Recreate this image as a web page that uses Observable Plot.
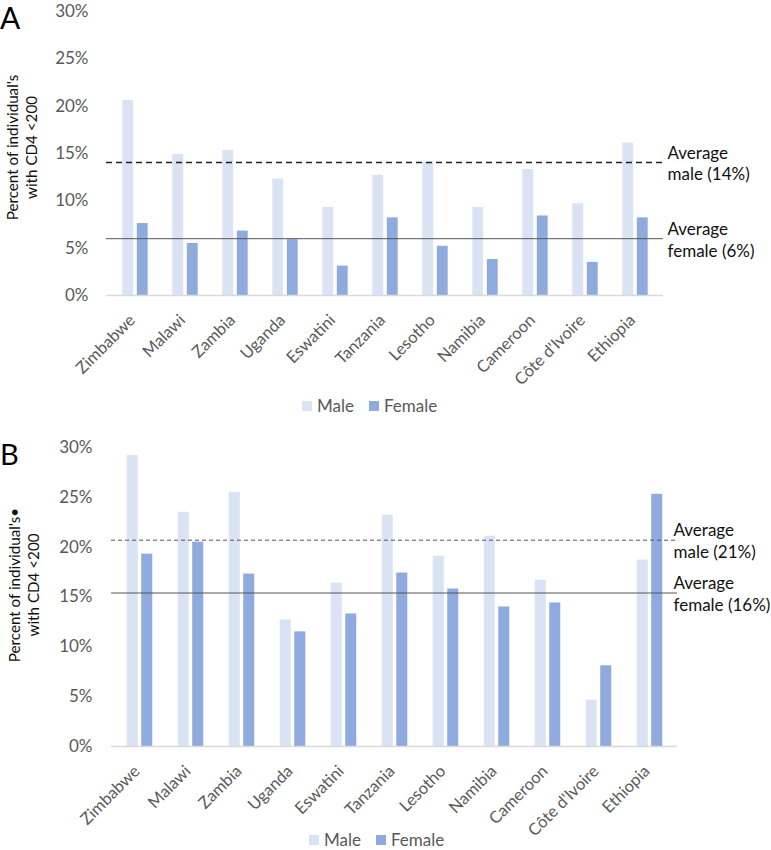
<!DOCTYPE html>
<html><head><meta charset="utf-8">
<script src="https://cdn.jsdelivr.net/npm/d3@7"></script>
<script src="https://cdn.jsdelivr.net/npm/@observablehq/plot@0.6"></script>
<style>
body{margin:0;background:#fff;font-family:Lato,sans-serif;}
#wrap{position:relative;width:771px;height:850px;overflow:hidden;}
.panel{position:absolute;left:0;}
.lbl{position:absolute;color:#000;line-height:1;}
.legend{position:absolute;display:flex;align-items:center;font-size:17px;color:#595959;line-height:1;}
.sw{display:inline-block;width:10px;height:10px;margin-right:5px;}
</style></head>
<body><div id="wrap"></div>
<script>
const countries = ["Zimbabwe","Malawi","Zambia","Uganda","Eswatini","Tanzania","Lesotho","Namibia","Cameroon","Côte d'Ivoire","Ethiopia"];
const maleA   = [20.6,14.9,15.3,12.3,9.3,12.7,14.1,9.3,13.3,9.7,16.1];
const femaleA = [7.6,5.5,6.8,5.9,3.1,8.2,5.2,3.8,8.4,3.5,8.2];
const maleB   = [29.2,23.5,25.5,12.7,16.4,23.2,19.1,21.1,16.7,4.65,18.7];
const femaleB = [19.3,20.5,17.3,11.5,13.3,17.4,15.8,14.0,14.4,8.1,25.3];
const avgA = [14.05, 6.0];
const avgB = [20.7, 15.4];
const avgLabelsA = ["Average\nmale (14%)","Average\nfemale (6%)"];
const avgLabelsB = ["Average\nmale (21%)","Average\nfemale (16%)"];
const yTicks = [0,5,10,15,20,25,30];
const seriesNames = ["Male","Female"];
const seriesColors = ["#dae3f3","#8faadc"];

const wrap = document.getElementById("wrap");
const hasAxes = typeof Plot.axisX === "function";

function panel(o){
  const bw = (771 - o.ml - o.mr) / countries.length;
  const rowsM = countries.map((c,i)=>({country:c, value:o.male[i]}));
  const rowsF = countries.map((c,i)=>({country:c, value:o.female[i]}));
  const marks = [
    Plot.barY(rowsM, {x: "country", y: "value", fill: seriesColors[0], insetLeft: bw/2 - 13, insetRight: bw/2 + 1.5}),
    Plot.barY(rowsF, {x: "country", y: "value", fill: seriesColors[1], insetLeft: bw/2 + 1.5, insetRight: bw/2 - 13}),
    Plot.ruleY([0], {stroke: "#d9d9d9", strokeWidth: 1.5}),
    Plot.ruleY([o.avg[0]], {stroke: o.dashColor, strokeWidth: o.dashWidth, strokeDasharray: o.dash}),
    Plot.ruleY([o.avg[1]], {stroke: "#555", strokeWidth: 1}),
    Plot.text(o.avg, {y: d => d, text: (d,i) => o.avgLabels[i], frameAnchor: "right", textAnchor: "start", dx: o.adx, fill: "#111", fontSize: 17, lineHeight: 1.28}),
    Plot.text([o.ytitle], {text: d => d, frameAnchor: "left", textAnchor: "middle", rotate: -90, dx: o.tdx, dy: o.tdy, fill: "#111", fontSize: 15.2, lineHeight: 1.22})
  ];
  if (hasAxes) {
    marks.push(
      Plot.axisX({tickRotate: -45, tickSize: 0, tickPadding: o.xpad, dx: o.xdx, fontSize: 16.5, fill: "#595959", label: null}),
      Plot.axisY({ticks: yTicks, tickFormat: d => d + "%", tickSize: 0, tickPadding: o.ypad, fontSize: 17, fill: "#595959", label: null})
    );
  }
  const chart = Plot.plot({
    width: 771, height: o.height,
    marginTop: o.mt, marginBottom: o.mb, marginLeft: o.ml, marginRight: o.mr,
    style: {fontFamily: "Lato, sans-serif", fontSize: "17px", color: "#595959", background: "white", overflow: "visible"},
    x: {domain: countries, padding: 0, tickRotate: -45, tickSize: 0, tickPadding: o.xpad, label: null, axis: hasAxes ? null : "bottom"},
    y: {domain: [0,30], ticks: yTicks, tickFormat: d => d + "%", tickSize: 0, tickPadding: o.ypad, label: null, axis: hasAxes ? null : "left"},
    marks
  });
  chart.classList.add("panel");
  chart.style.top = o.top + "px";
  wrap.appendChild(chart);
  return chart;
}

panel({male: maleA, female: femaleA, avg: avgA, avgLabels: avgLabelsA, top: 0, height: 390, mt: 11, mb: 95, ml: 106, mr: 108,
  xpad: 22, xdx: -3, ypad: 18, dash: "6,4", dashColor: "#222", dashWidth: 1.4, adx: 4, tdx: -85, tdy: -6,
  ytitle: "Percent of individual's\nwith CD4 <200"});
panel({male: maleB, female: femaleB, avg: avgB, avgLabels: avgLabelsB, top: 420, height: 410, mt: 27, mb: 84, ml: 111, mr: 94,
  xpad: 22, xdx: -3, ypad: 19, dash: "4,3", dashColor: "#555", dashWidth: 1, adx: -4, tdx: -88, tdy: -12,
  ytitle: "Percent of individual's•\nwith CD4 <200"});

function label(t, x, y, fs){
  const d = document.createElement("div"); d.className = "lbl"; d.textContent = t;
  d.style.left = x + "px"; d.style.top = y + "px"; d.style.fontSize = fs + "px"; wrap.appendChild(d);
}
label("A", 0, 2, 30);
label("B", 0, 439, 29);

function legend(x, y){
  const d = document.createElement("div"); d.className = "legend";
  d.style.left = x + "px"; d.style.top = y + "px";
  seriesNames.forEach((n,i)=>{
    const s = document.createElement("span"); s.className = "sw"; s.style.background = seriesColors[i];
    const t = document.createElement("span"); t.textContent = n; t.style.marginRight = i === 0 ? "15px" : "0";
    d.appendChild(s); d.appendChild(t);
  });
  wrap.appendChild(d);
}
legend(302, 397);
legend(309, 831);
</script>
</body></html>
